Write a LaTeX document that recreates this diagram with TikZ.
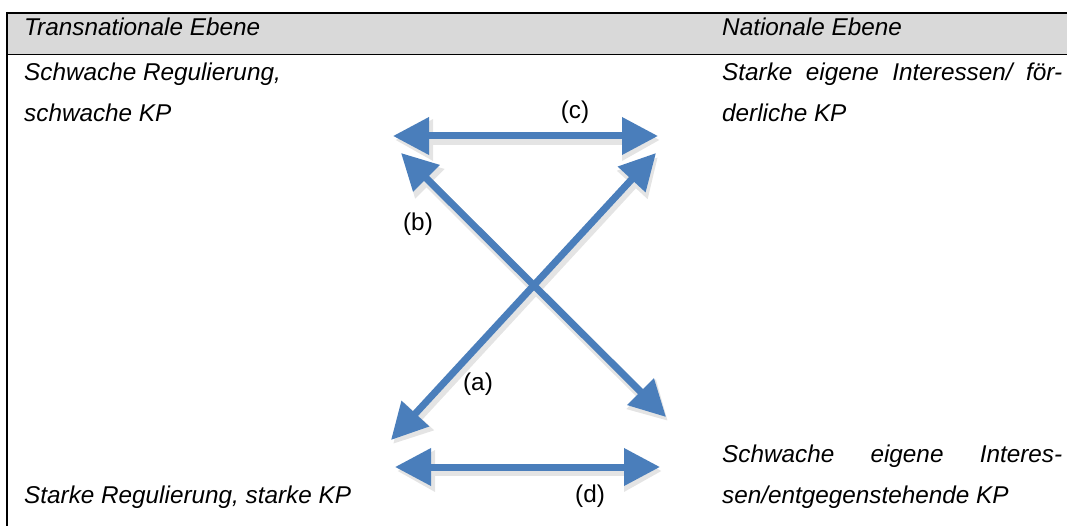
\documentclass[tikz,border=0pt]{standalone}
\usepackage{fontspec}
\setmainfont{Liberation Sans}
\usetikzlibrary{arrows.meta}
\definecolor{arrowblue}{RGB}{74,126,187}
\definecolor{headgray}{RGB}{217,217,217}
\definecolor{shadowgray}{RGB}{228,228,228}
\begin{document}
\begin{tikzpicture}[x=1pt,y=-1pt,
  txt/.style={anchor=base west,inner sep=0pt,font=\fontsize{24.3}{29}\selectfont\itshape},
  lbl/.style={inner sep=0pt,font=\fontsize{24.3}{29}\selectfont},
  bigarrow/.style={line width=7pt,draw=arrowblue,
    arrows={Triangle[length=36pt,width=36pt,fill=arrowblue]-Triangle[length=36pt,width=36pt,fill=arrowblue]}},
  shadowtwo/.style={line width=10pt,draw=shadowgray,
    arrows={Triangle[length=38pt,width=39pt,fill=shadowgray]-Triangle[length=38pt,width=39pt,fill=shadowgray]}},
]
\useasboundingbox (0,0) rectangle (1067,526);

% table frame with grey header row
\fill[headgray] (7,13) rectangle (1067,55);
\draw[line width=2pt] (7,13) -- (1067,13);
\draw[line width=1pt] (7,55) -- (1067,55);
\draw[line width=1.5pt] (7,12) -- (7,526);

% header row
\node[txt] (hl) at (24,36) {Transnationale Ebene};
\node[txt] (hr) at (722,36) {Nationale Ebene};

% upper row texts
\node[txt] (tl1) at (24,81) {Schwache Regulierung,};
\node[txt] (tl2) at (24,122) {schwache KP};
\node[txt] (tr1) at (722,81) {\makebox[340pt][s]{Starke eigene Interessen/ för-}};
\node[txt] (tr2) at (722,122) {derliche KP};

% lower row texts
\node[txt] (bl) at (24,503) {Starke Regulierung, starke KP};
\node[txt] (br1) at (722,462) {\makebox[340pt][s]{Schwache eigene Interes-}};
\node[txt] (br2) at (722,503) {sen/entgegenstehende KP};

% arrow end points
\coordinate (cL) at (393,136);
\coordinate (cR) at (658,136);
\coordinate (dL) at (395,467);
\coordinate (dR) at (660,467);
\coordinate (bT) at (401,153);
\coordinate (bB) at (666,417);
\coordinate (aT) at (656,153);
\coordinate (aB) at (391,440);

% soft shadows under the arrows
\begin{scope}[transform canvas={shift={(2pt,-4pt)}}]
  \draw[shadowtwo] (cL) -- (cR);
  \draw[shadowtwo] (dL) -- (dR);
  \draw[shadowtwo] (aB) -- (aT);
  \draw[shadowtwo] (bT) -- (bB);
\end{scope}

% arrows
\draw[bigarrow] (cL) -- (cR);
\draw[bigarrow] (dL) -- (dR);
\draw[bigarrow] (aB) -- (aT);
\draw[bigarrow] (bT) -- (bB);

% arrow labels
\node[lbl] (la) at (478,384) {(a)};
\node[lbl] (lb) at (418,224) {(b)};
\node[lbl] (lc) at (575,112) {(c)};
\node[lbl] (ld) at (590,496) {(d)};
\end{tikzpicture}
\end{document}
